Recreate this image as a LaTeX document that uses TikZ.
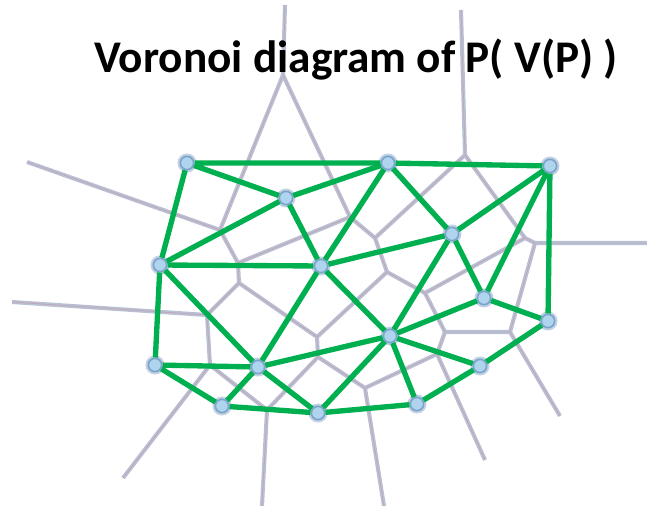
\documentclass[tikz,border=0pt]{standalone}
\usepackage{fontspec}
\setmainfont{Carlito}
\definecolor{delgreen}{RGB}{0,176,80}
\definecolor{vorgrey}{RGB}{184,192,212}
\definecolor{vorred}{RGB}{206,150,166}
\definecolor{sitefill}{RGB}{174,212,238}
\definecolor{siteline}{RGB}{122,164,204}
\definecolor{sitehalo}{RGB}{196,210,228}
\tikzset{
  site/.style={circle,fill=sitefill,draw=siteline,line width=1.2pt,
    minimum size=9.5pt,inner sep=0pt,preaction={draw=sitehalo,line width=4pt}},
  vor/.style={draw=vorgrey,line width=1.3pt,double=vorred,double distance=0.3pt},
  del/.style={draw=delgreen,line width=3.8pt}
}
\begin{document}
\begin{tikzpicture}[x=0.025cm,y=-0.025cm]
\useasboundingbox (0,0) rectangle (647,506);
% voronoi vertices
\coordinate (v1) at (283,75);
\coordinate (v2) at (220,230);
\coordinate (v3) at (350,217);
\coordinate (v4) at (238,263);
\coordinate (v5) at (375,238);
\coordinate (v6) at (465,155);
\coordinate (v7) at (525,238);
\coordinate (v8) at (535,243);
\coordinate (v9) at (387,272);
\coordinate (v10) at (425,293);
\coordinate (v11) at (239,283);
\coordinate (v12) at (207,315);
\coordinate (v13) at (317,337);
\coordinate (v14) at (445,332);
\coordinate (v15) at (510,332);
\coordinate (v16) at (318,357);
\coordinate (v17) at (210,365);
\coordinate (v18) at (267,410);
\coordinate (v19) at (365,388);
\coordinate (v20) at (437,354);
% ends of the rays
\coordinate (r1) at (285,5);
\coordinate (r2) at (461,10);
\coordinate (r3) at (647,243);
\coordinate (r4) at (560,416);
\coordinate (r5) at (485,460);
\coordinate (r6) at (384,506);
\coordinate (r7) at (262,506);
\coordinate (r8) at (123,478);
\coordinate (r9) at (12,302);
\coordinate (r10) at (27,162);
% voronoi edges
\draw[vor] (r1) -- (v1) -- (v2) -- (r10);
\draw[vor] (v1) -- (v3) -- (v4) -- (v2);
\draw[vor] (v3) -- (v5) -- (v6) -- (r2);
\draw[vor] (v4) -- (v11) -- (v12) -- (r9);
\draw[vor] (v5) -- (v9) -- (v10) -- (v7) -- (v6);
\draw[vor] (v7) -- (v8) -- (r3);
\draw[vor] (v8) -- (v15) -- (r4);
\draw[vor] (v9) -- (v13) -- (v11);
\draw[vor] (v10) -- (v14) -- (v15);
\draw[vor] (v14) -- (v20) -- (r5);
\draw[vor] (v13) -- (v16) -- (v19) -- (v20);
\draw[vor] (v19) -- (r6);
\draw[vor] (v12) -- (v17) -- (r8);
\draw[vor] (v17) -- (v18) -- (r7);
\draw[vor] (v16) -- (v18);
% title
\node[anchor=base,font=\fontsize{32.2}{36}\selectfont\bfseries] (title) at (356,72) {Voronoi diagram of P( V(P) )};
% sites
\node[site] (a) at (187,163) {};
\node[site] (b) at (388,163) {};
\node[site] (c) at (550,166) {};
\node[site] (d) at (286,198) {};
\node[site] (e) at (452,234) {};
\node[site] (f) at (160,265) {};
\node[site] (g) at (321,266) {};
\node[site] (h) at (484,298) {};
\node[site] (i) at (548,321) {};
\node[site] (j) at (390,336) {};
\node[site] (k) at (155,365) {};
\node[site] (l) at (258,367) {};
\node[site] (m) at (480,366) {};
\node[site] (n) at (222,406) {};
\node[site] (o) at (318,413) {};
\node[site] (p) at (417,404) {};
% delaunay edges
\draw[del] (a) -- (b) (a) -- (d) (a) -- (f);
\draw[del] (b) -- (d) (b) -- (g) (b) -- (e) (b) -- (c);
\draw[del] (c) -- (e) (c) -- (h) (c) -- (i);
\draw[del] (d) -- (f) (d) -- (g);
\draw[del] (f) -- (g) (f) -- (k) (f) -- (l);
\draw[del] (g) -- (e) (g) -- (j) (g) -- (l);
\draw[del] (e) -- (h) (e) -- (j);
\draw[del] (h) -- (j) (h) -- (i) (i) -- (m);
\draw[del] (j) -- (l) (j) -- (m) (j) -- (o) (j) -- (p);
\draw[del] (l) -- (k) (l) -- (n) (l) -- (o);
\draw[del] (k) -- (n) (n) -- (o) (o) -- (p) (p) -- (m);
\end{tikzpicture}
\end{document}
